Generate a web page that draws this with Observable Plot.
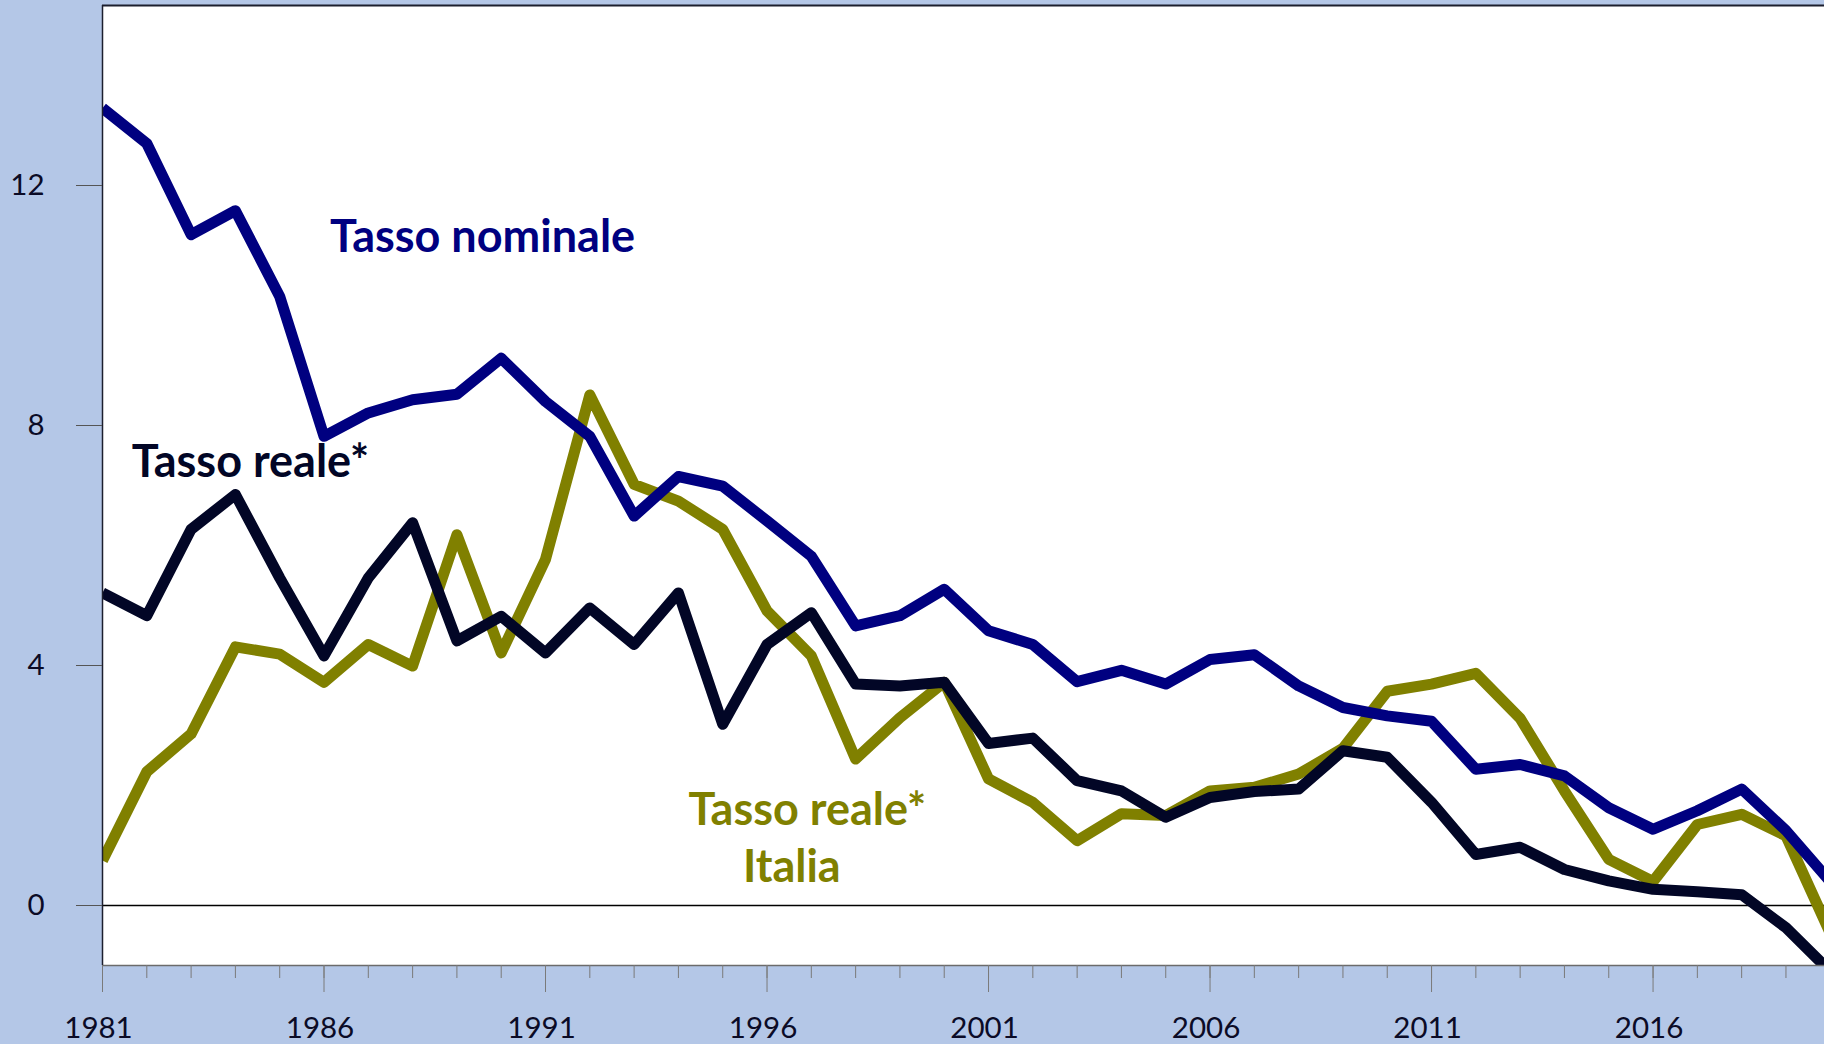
<!DOCTYPE html>
<html>
<head>
<meta charset="utf-8">
<script src="https://cdn.jsdelivr.net/npm/d3@7"></script>
<script src="https://cdn.jsdelivr.net/npm/@observablehq/plot@0.6"></script>
<style>
  html, body { margin: 0; padding: 0; background: #B4C7E7; overflow: hidden; }
  #chart svg { display: block; }
</style>
</head>
<body>
<div id="chart"></div>
<script>
const years = d3.range(1981, 2021);

const tassoNominale = [13.29, 12.70, 11.18, 11.58, 10.15, 7.82, 8.21, 8.43, 8.52, 9.12,
  8.40, 7.82, 6.49, 7.15, 6.99, 6.41, 5.82, 4.66, 4.83, 5.27,
  4.58, 4.35, 3.73, 3.92, 3.69, 4.10, 4.18, 3.66, 3.30, 3.16,
  3.07, 2.27, 2.35, 2.16, 1.63, 1.27, 1.58, 1.94, 1.25, 0.40];

const tassoReale = [5.21, 4.83, 6.27, 6.85, 5.46, 4.16, 5.46, 6.38, 4.41, 4.82,
  4.21, 4.96, 4.35, 5.21, 3.02, 4.35, 4.88, 3.69, 3.66, 3.72,
  2.70, 2.79, 2.08, 1.91, 1.47, 1.80, 1.90, 1.94, 2.58, 2.47,
  1.72, 0.85, 0.97, 0.60, 0.41, 0.27, 0.23, 0.18, -0.37, -1.10];

const tassoRealeItalia = [0.75, 2.23, 2.86, 4.31, 4.19, 3.72, 4.35, 3.99, 6.18, 4.21,
  5.77, 8.51, 7.02, 6.74, 6.27, 4.91, 4.16, 2.44, 3.13, 3.72,
  2.11, 1.72, 1.08, 1.53, 1.50, 1.91, 1.97, 2.19, 2.62, 3.57,
  3.69, 3.87, 3.12, 1.91, 0.77, 0.40, 1.35, 1.52, 1.16, -0.46];

const yTicks = [0, 4, 8, 12];
const xLabelYears = [1981, 1986, 1991, 1996, 2001, 2006, 2011, 2016];

// series label annotations (data coordinates: year, value)
const labelTexts = ["Tasso nominale", "Tasso reale*", "Tasso reale*", "Italia"];
const labelYears = [1989.58, 1984.34, 1996.91, 1996.56];
const labelValues = [10.89, 7.14, 1.35, 0.40];
const labelSeries = ["nom", "reale", "italia", "italia"];

const colors = {nom: "#000080", reale: "#020626", italia: "#808000"};

const toRows = (vals) => years.map((y, i) => ({year: y, value: vals[i]}));
const labels = labelTexts.map((t, i) => ({text: t, year: labelYears[i], value: labelValues[i], s: labelSeries[i]}));

const xMax = 2019.87;
const lineOpts = {x: "year", y: "value", strokeWidth: 11, strokeLinejoin: "round", strokeLinecap: "butt", clip: true};

const chart = Plot.plot({
  width: 1824,
  height: 1044,
  marginLeft: 102,
  marginRight: 0,
  marginTop: 5,
  marginBottom: 79,
  style: {background: "transparent", fontFamily: "Lato, sans-serif", overflow: "visible"},
  x: {domain: [1981, xMax]},
  y: {domain: [-1, 15]},
  marks: [
    Plot.frame({fill: "white", stroke: null}),
    Plot.ruleY([0], {stroke: "#000", strokeWidth: 1.5}),
    Plot.line(toRows(tassoRealeItalia), {...lineOpts, stroke: colors.italia}),
    Plot.line(toRows(tassoNominale), {...lineOpts, stroke: colors.nom}),
    Plot.line(toRows(tassoReale), {...lineOpts, stroke: colors.reale}),
    Plot.ruleY([15], {stroke: "#1c1f2e", strokeWidth: 2}),
    Plot.ruleY([-1], {stroke: "#6b6b6b", strokeWidth: 1.5}),
    Plot.ruleX([1981], {stroke: "#1c1f2e", strokeWidth: 1.5}),
    Plot.axisX(years.filter(y => y <= xMax), {anchor: "bottom", tickSize: 13, tickFormat: () => "", stroke: "#7a7a7a", label: null}),
    Plot.axisX(xLabelYears, {anchor: "bottom", tickSize: 27, tickFormat: () => "", stroke: "#7a7a7a", label: null}),
    Plot.axisX(xLabelYears, {anchor: "bottom", tickSize: 0, tickPadding: 52, dx: -4, tickFormat: d => String(d), fill: "#0b0b26", fontSize: 29.5, label: null}),
    Plot.axisY(yTicks, {anchor: "left", tickSize: 26, tickPadding: 32, tickFormat: d => String(d), stroke: "#555", fill: "#0b0b26", fontSize: 29.5, label: null}),
    Plot.text(labels, {x: "year", y: "value", text: "text", fill: d => colors[d.s], textAnchor: "middle", lineAnchor: "bottom", fontSize: 45, fontWeight: "bold"})
  ]
});
document.getElementById("chart").appendChild(chart);
</script>
</body>
</html>
